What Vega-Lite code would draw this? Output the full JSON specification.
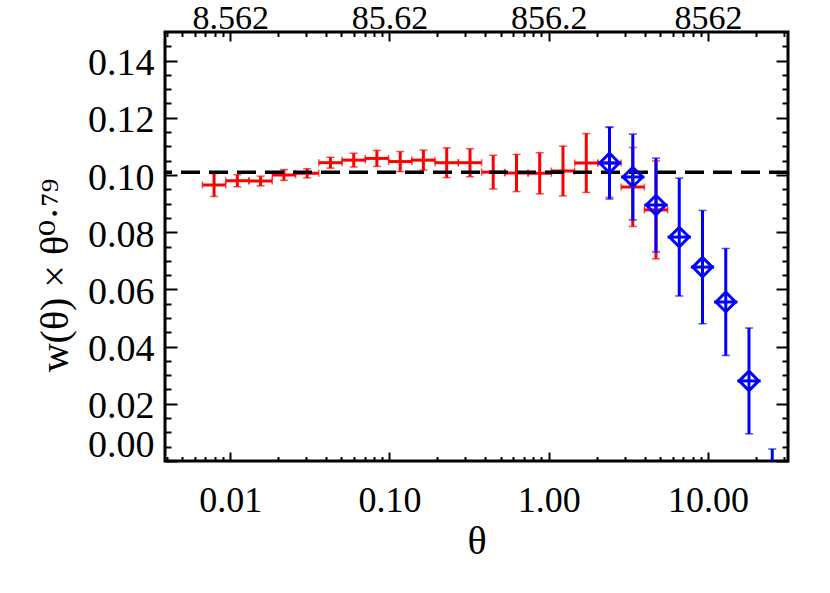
{
  "$schema": "https://vega.github.io/schema/vega-lite/v6.json",
  "width": 623,
  "height": 429,
  "autosize": {"type": "none"},
  "padding": {"left": 165, "top": 32, "right": 42, "bottom": 132},
  "background": "white",
  "config": {
    "view": {"stroke": "black", "strokeWidth": 3},
    "axis": {
      "domain": false, "grid": false, "labelOverlap": false,
      "labelFont": "Liberation Serif", "labelFontSize": 36, "labelColor": "black",
      "titleFont": "Liberation Serif", "titleFontSize": 40, "titleFontWeight": "normal", "titleColor": "black",
      "tickColor": "black", "tickWidth": 2
    }
  },
  "datasets": {
    "pts": [
      {"s": "red", "theta": 0.00793, "xlo": 0.0067, "xhi": 0.00938, "w": 0.0965, "ylo": 0.0925, "yhi": 0.1005},
      {"s": "red", "theta": 0.0111, "xlo": 0.00938, "xhi": 0.01313, "w": 0.098, "ylo": 0.0959, "yhi": 0.1001},
      {"s": "red", "theta": 0.01554, "xlo": 0.01313, "xhi": 0.01838, "w": 0.0979, "ylo": 0.0962, "yhi": 0.0996},
      {"s": "red", "theta": 0.02176, "xlo": 0.01839, "xhi": 0.02574, "w": 0.1, "ylo": 0.0981, "yhi": 0.1019},
      {"s": "red", "theta": 0.03045, "xlo": 0.02574, "xhi": 0.03602, "w": 0.1006, "ylo": 0.099, "yhi": 0.1022},
      {"s": "red", "theta": 0.04263, "xlo": 0.03604, "xhi": 0.05043, "w": 0.1043, "ylo": 0.1024, "yhi": 0.1062},
      {"s": "red", "theta": 0.05969, "xlo": 0.05046, "xhi": 0.07061, "w": 0.1052, "ylo": 0.1028, "yhi": 0.1076},
      {"s": "red", "theta": 0.08345, "xlo": 0.07054, "xhi": 0.09872, "w": 0.1058, "ylo": 0.103, "yhi": 0.1086},
      {"s": "red", "theta": 0.1169, "xlo": 0.09882, "xhi": 0.1383, "w": 0.1047, "ylo": 0.1012, "yhi": 0.1082},
      {"s": "red", "theta": 0.1634, "xlo": 0.1381, "xhi": 0.1933, "w": 0.1052, "ylo": 0.1017, "yhi": 0.1087},
      {"s": "red", "theta": 0.2289, "xlo": 0.1935, "xhi": 0.2708, "w": 0.1043, "ylo": 0.0991, "yhi": 0.1095},
      {"s": "red", "theta": 0.3206, "xlo": 0.271, "xhi": 0.3793, "w": 0.1043, "ylo": 0.0994, "yhi": 0.1092},
      {"s": "red", "theta": 0.4483, "xlo": 0.379, "xhi": 0.5303, "w": 0.101, "ylo": 0.0951, "yhi": 0.1069},
      {"s": "red", "theta": 0.628, "xlo": 0.5309, "xhi": 0.7429, "w": 0.1007, "ylo": 0.0942, "yhi": 0.1072},
      {"s": "red", "theta": 0.878, "xlo": 0.7422, "xhi": 1.0387, "w": 0.1006, "ylo": 0.0934, "yhi": 0.1078},
      {"s": "red", "theta": 1.2294, "xlo": 1.0392, "xhi": 1.4544, "w": 0.1014, "ylo": 0.0927, "yhi": 0.1101},
      {"s": "red", "theta": 1.7222, "xlo": 1.4558, "xhi": 2.0374, "w": 0.1042, "ylo": 0.0939, "yhi": 0.1145},
      {"s": "red", "theta": 2.408, "xlo": 2.0355, "xhi": 2.8487, "w": 0.1042, "ylo": 0.0922, "yhi": 0.1166},
      {"s": "red", "theta": 3.373, "xlo": 2.8512, "xhi": 3.9903, "w": 0.0958, "ylo": 0.082, "yhi": 0.1096},
      {"s": "red", "theta": 4.716, "xlo": 3.9865, "xhi": 5.579, "w": 0.0878, "ylo": 0.0707, "yhi": 0.1049},
      {"s": "blue", "theta": 2.408, "xlo": 2.0355, "xhi": 2.8487, "w": 0.1042, "ylo": 0.0916, "yhi": 0.1168},
      {"s": "blue", "theta": 3.373, "xlo": 2.8512, "xhi": 3.9903, "w": 0.0993, "ylo": 0.0843, "yhi": 0.1143},
      {"s": "blue", "theta": 4.716, "xlo": 3.9865, "xhi": 5.579, "w": 0.0895, "ylo": 0.0731, "yhi": 0.1059},
      {"s": "blue", "theta": 6.602, "xlo": 5.5808, "xhi": 7.8102, "w": 0.0783, "ylo": 0.0577, "yhi": 0.0989},
      {"s": "blue", "theta": 9.238, "xlo": 7.809, "xhi": 10.929, "w": 0.0678, "ylo": 0.048, "yhi": 0.0876},
      {"s": "blue", "theta": 12.93, "xlo": 10.93, "xhi": 15.296, "w": 0.0556, "ylo": 0.0369, "yhi": 0.0743},
      {"s": "blue", "theta": 18.09, "xlo": 15.292, "xhi": 21.4, "w": 0.028, "ylo": 0.0095, "yhi": 0.0465},
      {"s": "blue", "theta": 25.32, "xlo": 21.4, "xhi": 29.95, "w": -0.0148, "ylo": -0.0338, "yhi": 0.0042}
    ],
    "ref": [{"w": 0.101}]
  },
  "resolve": {"axis": {"x": "independent", "y": "independent"}},
  "layer": [
    {
      "data": {"name": "pts"},
      "transform": [{"filter": "datum.s === 'red'"}],
      "mark": {"type": "rule", "color": "#ff0000", "strokeWidth": 3, "clip": true},
      "encoding": {
        "x": {"field": "theta", "type": "quantitative",
          "scale": {"type": "log", "domain": [0.0039, 31.8], "nice": false},
          "axis": {"orient": "bottom", "values": [0.01, 0.1, 1, 10], "format": ".2f", "tickSize": 9, "offset": -9, "labelPadding": 22, "title": "θ", "titlePadding": 3}},
        "y": {"field": "ylo", "type": "quantitative",
          "scale": {"domain": [0, 0.15], "nice": false, "zero": false},
          "axis": {"orient": "left", "values": [0, 0.02, 0.04, 0.06, 0.08, 0.1, 0.12, 0.14], "format": ".2f", "tickSize": 12, "offset": -12, "labelPadding": 11, "labelFontSize": 38, "labelOffset": 3, "labelFlush": true, "title": "w(θ) × θ⁰·⁷⁹", "titleFont": "Liberation Serif, DejaVu Serif", "titleFontSize": 40, "titlePadding": 12, "titleY": 243}},
        "y2": {"field": "yhi"}
      }
    },
    {
      "data": {"name": "pts"},
      "transform": [{"filter": "datum.s === 'red'"}],
      "mark": {"type": "rule", "color": "#ff0000", "strokeWidth": 3, "clip": true},
      "encoding": {
        "x": {"field": "xlo", "type": "quantitative",
          "axis": {"orient": "top", "values": [0.01, 0.1, 1, 10], "labelExpr": "format(datum.value*856.2, '.4r')", "tickSize": 9, "offset": -9, "labelPadding": -3, "labelFontSize": 34, "title": null}},
        "x2": {"field": "xhi"},
        "y": {"field": "w", "type": "quantitative",
          "axis": {"orient": "right", "values": [0, 0.02, 0.04, 0.06, 0.08, 0.1, 0.12, 0.14], "labels": false, "tickSize": 12, "offset": -12, "title": null}}
      }
    },
    {
      "data": {"name": "pts"},
      "transform": [{"filter": "datum.s === 'red'"}],
      "mark": {"type": "tick", "orient": "horizontal", "color": "#ff0000", "size": 8, "thickness": 1.5, "clip": true},
      "encoding": {
        "x": {"field": "theta", "type": "quantitative",
          "axis": {"orient": "bottom", "values": [0.004, 0.005, 0.006, 0.007, 0.008, 0.009, 0.02, 0.03, 0.04, 0.05, 0.06, 0.07, 0.08, 0.09, 0.2, 0.3, 0.4, 0.5, 0.6, 0.7, 0.8, 0.9, 2, 3, 4, 5, 6, 7, 8, 9, 20, 30], "labels": false, "tickSize": 4.5, "offset": -4.5, "title": null}},
        "y": {"field": "ylo", "type": "quantitative",
          "axis": {"orient": "left", "values": [0.005, 0.01, 0.015, 0.025, 0.03, 0.035, 0.045, 0.05, 0.055, 0.065, 0.07, 0.075, 0.085, 0.09, 0.095, 0.105, 0.11, 0.115, 0.125, 0.13, 0.135, 0.145], "labels": false, "tickSize": 6, "offset": -6, "title": null}}
      }
    },
    {
      "data": {"name": "pts"},
      "transform": [{"filter": "datum.s === 'red'"}],
      "mark": {"type": "tick", "orient": "horizontal", "color": "#ff0000", "size": 8, "thickness": 1.5, "clip": true},
      "encoding": {
        "x": {"field": "theta", "type": "quantitative",
          "axis": {"orient": "top", "values": [0.004, 0.005, 0.006, 0.007, 0.008, 0.009, 0.02, 0.03, 0.04, 0.05, 0.06, 0.07, 0.08, 0.09, 0.2, 0.3, 0.4, 0.5, 0.6, 0.7, 0.8, 0.9, 2, 3, 4, 5, 6, 7, 8, 9, 20, 30], "labels": false, "tickSize": 4.5, "offset": -4.5, "title": null}},
        "y": {"field": "yhi", "type": "quantitative",
          "axis": {"orient": "right", "values": [0.005, 0.01, 0.015, 0.025, 0.03, 0.035, 0.045, 0.05, 0.055, 0.065, 0.07, 0.075, 0.085, 0.09, 0.095, 0.105, 0.11, 0.115, 0.125, 0.13, 0.135, 0.145], "labels": false, "tickSize": 6, "offset": -6, "title": null}}
      }
    },
    {
      "data": {"name": "pts"},
      "transform": [{"filter": "datum.s === 'red'"}],
      "mark": {"type": "tick", "orient": "vertical", "color": "#ff0000", "size": 7, "thickness": 1.5, "clip": true},
      "encoding": {
        "x": {"field": "xlo", "type": "quantitative", "axis": null},
        "y": {"field": "w", "type": "quantitative", "axis": null}
      }
    },
    {
      "data": {"name": "pts"},
      "transform": [{"filter": "datum.s === 'red'"}],
      "mark": {"type": "tick", "orient": "vertical", "color": "#ff0000", "size": 7, "thickness": 1.5, "clip": true},
      "encoding": {
        "x": {"field": "xhi", "type": "quantitative", "axis": null},
        "y": {"field": "w", "type": "quantitative", "axis": null}
      }
    },
    {
      "data": {"name": "ref"},
      "mark": {"type": "rule", "color": "black", "strokeWidth": 3.5, "strokeDash": [19, 9]},
      "encoding": {
        "y": {"field": "w", "type": "quantitative", "axis": null}
      }
    },
    {
      "data": {"name": "pts"},
      "transform": [{"filter": "datum.s === 'blue'"}],
      "mark": {"type": "rule", "color": "#0000ff", "strokeWidth": 3, "clip": true},
      "encoding": {
        "x": {"field": "theta", "type": "quantitative", "axis": null},
        "y": {"field": "ylo", "type": "quantitative", "axis": null},
        "y2": {"field": "yhi"}
      }
    },
    {
      "data": {"name": "pts"},
      "transform": [{"filter": "datum.s === 'blue'"}],
      "mark": {"type": "rule", "color": "#0000ff", "strokeWidth": 3, "clip": true},
      "encoding": {
        "x": {"field": "xlo", "type": "quantitative", "axis": null},
        "x2": {"field": "xhi"},
        "y": {"field": "w", "type": "quantitative", "axis": null}
      }
    },
    {
      "data": {"name": "pts"},
      "transform": [{"filter": "datum.s === 'blue'"}],
      "mark": {"type": "tick", "orient": "horizontal", "color": "#0000ff", "size": 8, "thickness": 1.5, "clip": true},
      "encoding": {
        "x": {"field": "theta", "type": "quantitative", "axis": null},
        "y": {"field": "ylo", "type": "quantitative", "axis": null}
      }
    },
    {
      "data": {"name": "pts"},
      "transform": [{"filter": "datum.s === 'blue'"}],
      "mark": {"type": "tick", "orient": "horizontal", "color": "#0000ff", "size": 8, "thickness": 1.5, "clip": true},
      "encoding": {
        "x": {"field": "theta", "type": "quantitative", "axis": null},
        "y": {"field": "yhi", "type": "quantitative", "axis": null}
      }
    },
    {
      "data": {"name": "pts"},
      "transform": [{"filter": "datum.s === 'blue'"}],
      "mark": {"type": "point", "shape": "diamond", "filled": false, "size": 380, "strokeWidth": 3, "color": "#0000ff", "opacity": 1, "clip": true},
      "encoding": {
        "x": {"field": "theta", "type": "quantitative", "axis": null},
        "y": {"field": "w", "type": "quantitative", "axis": null}
      }
    }
  ]
}
